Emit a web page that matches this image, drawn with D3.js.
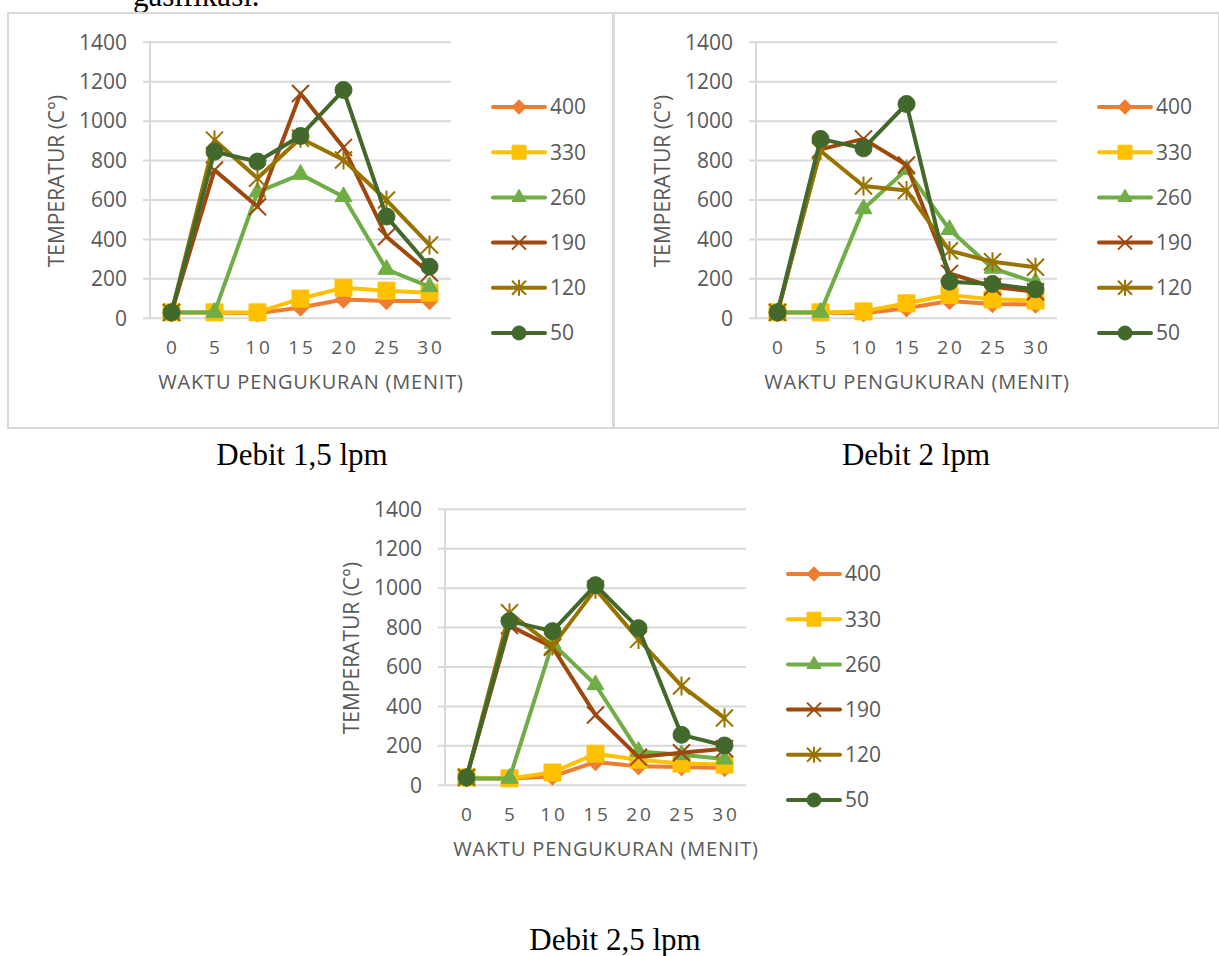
<!DOCTYPE html>
<html><head><meta charset="utf-8">
<script src="https://cdn.jsdelivr.net/npm/d3@7"></script>
<style>body{margin:0;background:#fff} svg{display:block}</style>
</head>
<body><svg id="c" width="1219" height="956"></svg>
<script>
// ---------- data ----------
const categories = ["0","5","10","15","20","25","30"];
const seriesNames = ["400","330","260","190","120","50"];
const yTicks = [0,200,400,600,800,1000,1200,1400];
const captions = ["Debit 1,5 lpm","Debit 2 lpm","Debit 2,5 lpm"];
const yTitle = "TEMPERATUR (C°)";
const xTitle = "WAKTU PENGUKURAN (MENIT)";
const topText = "gasifikasi.";

// Debit 1,5 lpm
const d15_400 = [30,30,25,55,95,88,88];
const d15_330 = [30,30,30,100,155,140,130];
const d15_260 = [30,30,640,730,617,248,160];
const d15_190 = [30,752,566,1140,867,414,230];
const d15_120 = [30,904,710,913,803,600,372];
const d15_50  = [30,845,795,925,1158,516,262];
// Debit 2 lpm
const d2_400 = [30,30,25,51,88,72,70];
const d2_330 = [30,30,35,76,118,96,90];
const d2_260 = [30,30,555,755,450,254,182];
const d2_190 = [30,857,910,778,228,160,135];
const d2_120 = [30,850,671,648,343,287,259];
const d2_50  = [30,910,862,1087,186,174,147];
// Debit 2,5 lpm
const d25_400 = [35,35,45,118,96,93,88];
const d25_330 = [40,35,65,160,130,110,105];
const d25_260 = [35,35,720,510,172,155,133];
const d25_190 = [40,810,700,357,143,165,185];
const d25_120 = [40,875,706,995,740,504,341];
const d25_50  = [40,833,782,1015,797,256,202];

const colors = ["#ED7D31","#FFC000","#70AD47","#9E480E","#997300","#43682B"];
const markers = ["diamond","square","triangle","x","asterisk","circle"];

const charts = [
  {data:[d15_400,d15_330,d15_260,d15_190,d15_120,d15_50], dx:0, dy:0, box:true},
  {data:[d2_400,d2_330,d2_260,d2_190,d2_120,d2_50], dx:606, dy:0, box:true},
  {data:[d25_400,d25_330,d25_260,d25_190,d25_120,d25_50], dx:295, dy:467, box:false}
];

const svg = d3.select("#c");
const FONT = "'Open Sans', 'Noto Sans', sans-serif";
const TXT = "#595959";
const GRID = "#D9D9D9";

function markerPath(type, s){
  const h = s/2;
  switch(type){
    case "diamond": return d3.symbol(d3.symbolSquare, (s/Math.SQRT2)*(s/Math.SQRT2))();
    case "square": return d3.symbol(d3.symbolSquare, s*s)();
    case "triangle": return d3.symbol(d3.symbolTriangle, Math.sqrt(3)/4*s*s)();
    case "circle": return d3.symbol(d3.symbolCircle, Math.PI*h*h)();
    case "x": return `M${-h},${-h}L${h},${h}M${-h},${h}L${h},${-h}`;
    case "asterisk": return `M${-h},${-h}L${h},${h}M${-h},${h}L${h},${-h}M0,${-h-1}L0,${h+1}`;
  }
}
function drawMarker(g, type, color, x, y, s){
  const p = g.append("path").attr("d", markerPath(type, s))
    .attr("transform", `translate(${x},${y})` + (type==="diamond" ? " rotate(45)" : ""));
  if(type==="x" || type==="asterisk"){
    p.attr("fill","none").attr("stroke",color).attr("stroke-width",2);
  } else {
    p.attr("fill",color).attr("stroke",color).attr("stroke-width",1);
  }
}

// top text (cut off in the reference as well)
svg.append("text").attr("x",133).attr("y",6).text(topText)
  .attr("font-family","'Liberation Serif','Times New Roman',serif").attr("font-size",31).attr("fill","#000");

// chart boxes
charts.forEach(c=>{
  if(!c.box) return;
  svg.append("rect").attr("x",8+c.dx).attr("y",13+c.dy).attr("width",605).attr("height",415)
    .attr("fill","none").attr("stroke",GRID).attr("stroke-width",2);
});

const x = d3.scaleBand().domain(categories).range([150,451]);
const y = d3.scaleLinear().domain([0,1400]).range([318.3,42.3]);

charts.forEach(c=>{
  const g = svg.append("g").attr("transform",`translate(${c.dx},${c.dy})`);
  // gridlines
  g.append("g").selectAll("line").data(yTicks).join("line")
    .attr("x1",143).attr("x2",451).attr("y1",d=>y(d)).attr("y2",d=>y(d))
    .attr("stroke",GRID).attr("stroke-width",2);
  // vertical axis line
  g.append("line").attr("x1",150).attr("x2",150).attr("y1",y(1400)).attr("y2",y(0)+1)
    .attr("stroke",GRID).attr("stroke-width",2);
  // y axis labels
  const ya = g.append("g").attr("transform","translate(143,0)")
    .call(d3.axisLeft(y).tickValues(yTicks).tickSize(0).tickPadding(16).tickFormat(d3.format("d")));
  ya.select(".domain").remove();
  ya.selectAll("text").attr("font-family",FONT).attr("font-size",21).attr("fill",TXT);
  // x axis labels
  const xa = g.append("g").attr("transform",`translate(0,${y(0)})`)
    .call(d3.axisBottom(x).tickSize(0).tickPadding(22));
  xa.select(".domain").remove();
  xa.selectAll("text").attr("font-family",FONT).attr("font-size",19).attr("fill",TXT)
    .style("letter-spacing","3px").attr("dx","1.5px");
  // titles
  g.append("text").attr("transform","translate(64,181) rotate(-90)").attr("text-anchor","middle")
    .attr("font-family",FONT).attr("font-size",21).attr("fill",TXT).text(yTitle);
  g.append("text").attr("x",311).attr("y",389).attr("text-anchor","middle")
    .attr("font-family",FONT).attr("font-size",20).style("letter-spacing","0.8px").attr("fill",TXT).text(xTitle);
  // series
  const line = d3.line().x((d,i)=>x(categories[i])+x.bandwidth()/2).y(d=>y(d));
  c.data.forEach((vals,si)=>{
    const sg = g.append("g");
    sg.append("path").attr("d",line(vals)).attr("fill","none").attr("stroke",colors[si])
      .attr("stroke-width",4).attr("stroke-linejoin","round").attr("stroke-linecap","round");
    vals.forEach((v,i)=>drawMarker(sg, markers[si], colors[si], x(categories[i])+x.bandwidth()/2, y(v), 17));
  });
  // legend
  const ly = d3.scalePoint().domain(seriesNames).range([107,333]);
  seriesNames.forEach((n,si)=>{
    const lg = g.append("g");
    lg.append("line").attr("x1",493).attr("x2",545).attr("y1",ly(n)).attr("y2",ly(n))
      .attr("stroke",colors[si]).attr("stroke-width",4).attr("stroke-linecap","round");
    drawMarker(lg, markers[si], colors[si], 519, ly(n), 14);
    lg.append("text").attr("x",550).attr("y",ly(n)).attr("dy","0.35em")
      .attr("font-family",FONT).attr("font-size",21).attr("fill",TXT).text(n);
  });
});

// captions
const capPos = [[302,465],[916,465],[615,950]];
captions.forEach((t,i)=>{
  svg.append("text").attr("x",capPos[i][0]).attr("y",capPos[i][1]).attr("text-anchor","middle")
    .attr("font-family","'Liberation Serif','Times New Roman',serif").attr("font-size",31).attr("fill","#000").text(t);
});
</script></body></html>
